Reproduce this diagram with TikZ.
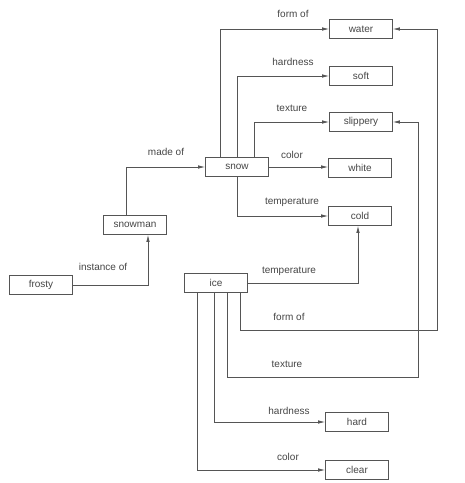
\documentclass[tikz,border=0pt]{standalone}
\usepackage{fontspec}
\setmainfont{Liberation Sans}
\usepackage{tikz}
\usetikzlibrary{arrows.meta, positioning, calc}
\definecolor{inkgray}{RGB}{70, 70, 70}
\definecolor{linegray}{RGB}{85, 85, 85}

\tikzset{
  concept/.style={draw=linegray, line width=0.8pt, minimum width=63pt, minimum height=19pt,
                  inner sep=0pt, text=inkgray, font=\fontsize{10}{12}\selectfont},
  relation/.style={draw=linegray, line width=0.7pt, -{Latex[length=7pt,width=3.5pt]}},
  rellabel/.style={text=inkgray, font=\fontsize{10}{12}\selectfont, inner sep=0pt}
}

\begin{document}
\begin{tikzpicture}[x=1pt, y=-1pt]
    \useasboundingbox[fill=white] (0,0) rectangle (465,483);

    % concept boxes
    \node[concept] (water)    at (361,29)  {water};
    \node[concept] (soft)     at (361,76)  {soft};
    \node[concept] (slippery) at (361,122) {slippery};
    \node[concept] (white)    at (360,168) {white};
    \node[concept] (cold)     at (360,216) {cold};
    \node[concept] (snow)     at (237,167) {snow};
    \node[concept] (snowman)  at (135,225) {snowman};
    \node[concept] (frosty)   at (41,285)  {frosty};
    \node[concept] (ice)      at (216,283) {ice};
    \node[concept] (hard)     at (357,422) {hard};
    \node[concept] (clear)    at (357,470) {clear};

    % turning points of the long ice links
    \coordinate (waterturn) at (437,330);
    \coordinate (slipturn)  at (418,377);

    % snow relations
    \draw[relation] ([xshift=-17pt]snow.north) |- (water.west);
    \draw[relation] (snow.north) |- (soft.west);
    \draw[relation] ([xshift=17pt]snow.north) |- (slippery.west);
    \draw[relation] (snow.east) -- (snow.east -| white.west);
    \draw[relation] (snow.south) |- (cold.west);

    % snowman and frosty
    \draw[relation] ([xshift=-9pt]snowman.north) |- (snow.west);
    \draw[relation] (frosty.east) -| ([xshift=13pt]snowman.south);

    % ice relations
    \draw[relation] (ice.east) -| ([xshift=-2pt]cold.south);
    \draw[relation] ([xshift=24pt]ice.south) |- (waterturn) |- (water.east);
    \draw[relation] ([xshift=11pt]ice.south) |- (slipturn) |- (slippery.east);
    \draw[relation] ([xshift=-2pt]ice.south) |- (hard.west);
    \draw[relation] ([xshift=-19pt]ice.south) |- (clear.west);

    % relation labels
    \node[rellabel] (lsnowform)  at (293,14)  {form of};
    \node[rellabel] (lsnowhard)  at (293,62)  {hardness};
    \node[rellabel] (lsnowtext)  at (292,108) {texture};
    \node[rellabel] (lsnowcolor) at (292,155) {color};
    \node[rellabel] (lsnowtemp)  at (292,202) {temperature};
    \node[rellabel] (lmadeof)    at (166,152) {made of};
    \node[rellabel] (linstance)  at (103,267) {instance of};
    \node[rellabel] (licetemp)   at (289,271) {temperature};
    \node[rellabel] (liceform)   at (289,317) {form of};
    \node[rellabel] (licetext)   at (287,364) {texture};
    \node[rellabel] (licehard)   at (289,411) {hardness};
    \node[rellabel] (licecolor)  at (288,457) {color};
\end{tikzpicture}
\end{document}
